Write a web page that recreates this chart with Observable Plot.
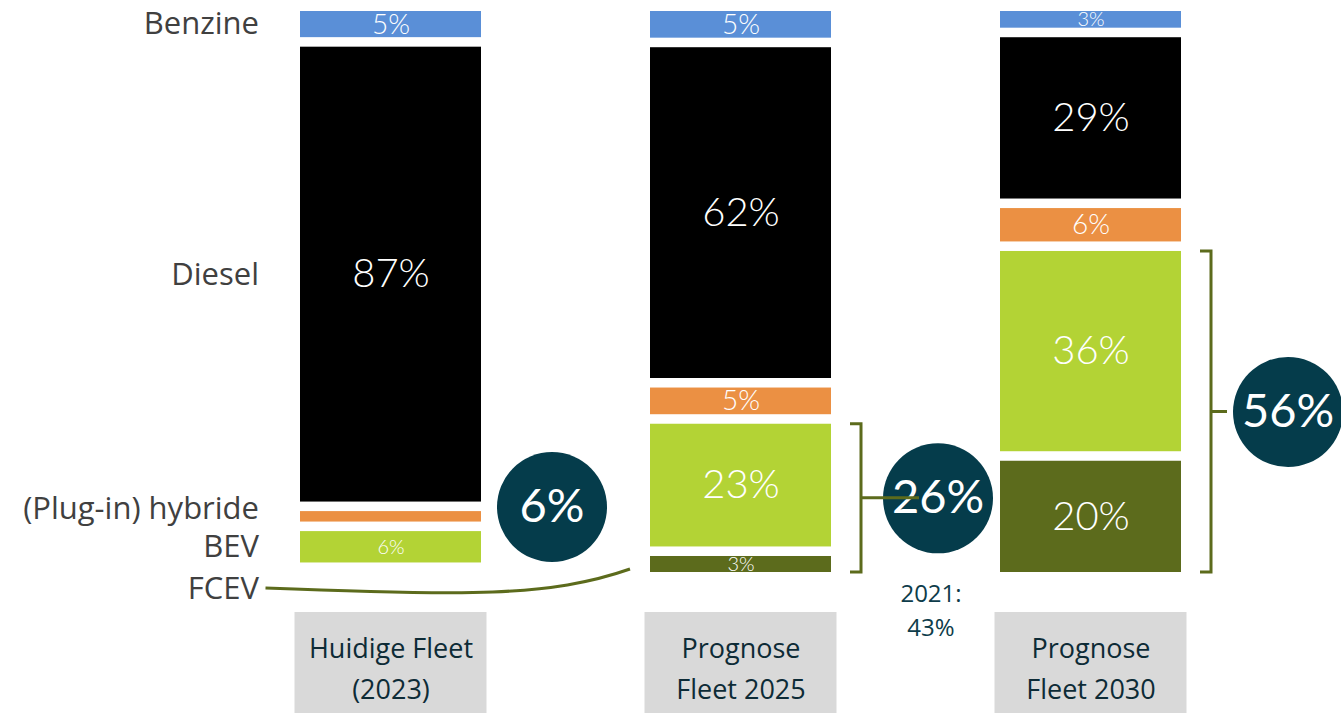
<!DOCTYPE html>
<html><head><meta charset="utf-8">
<script src="https://cdn.jsdelivr.net/npm/d3@7"></script>
<script src="https://cdn.jsdelivr.net/npm/@observablehq/plot@0.6"></script>
<style>html,body{margin:0;padding:0;background:#fff;overflow:hidden}#chart svg{display:block}</style>
</head><body><div id="chart"></div>
<script>
// ---- data ----
const categories = ["Huidige Fleet\n(2023)", "Prognose\nFleet 2025", "Prognose\nFleet 2030"];
const fuels = ["Benzine", "Diesel", "(Plug-in) hybride", "BEV", "FCEV"];
const benzine = [5, 5, 3];
const diesel  = [87, 62, 29];
const hybride = [2, 5, 6];
const bev     = [6, 23, 36];
const fcev    = [0, 3, 20];
const note2021 = "2021:\n43%";
const fuelColors = ["#5A8FD7", "#000000", "#EB9043", "#B3D335", "#5C6B1C"];

// ---- layout helpers ----
const W = 1341, H = 713;
const GAP = 1.7;
const circleFill = "#053C4B";
const olive = "#5C6B1C";
const PAD = 0.483;

const rows = [];
categories.forEach((c, i) => {
  const vals = [benzine[i], diesel[i], hybride[i], bev[i], fcev[i]];
  const k = (100 - GAP * (fuels.length - 1)) / d3.sum(vals);
  let y = 0;
  vals.forEach((v, j) => {
    const h = v * k;
    rows.push({cat: c, bar: i, fuel: fuels[j], value: v, y1: y, y2: y + h});
    y += h + GAP;
  });
});
const seg = (i, f) => rows.find(d => d.bar === i && d.fuel === f);
const greens = categories.map((c, i) => ({
  cat: c, bar: i, share: bev[i] + fcev[i],
  y1: seg(i, "BEV").y1, y2: seg(i, "FCEV").y2
}));
const mid = d => (d.y1 + d.y2) / 2;
const segFont = d => d.value >= 20 ? 40 : (d.value >= 5 && d.fuel !== "BEV") ? 28 : 20;
const labelStyle = {x: "cat", y: mid, text: "fuel", textAnchor: "end", dx: -132, fontSize: 31, fill: "#404040"};
const firstBar = f => rows.filter(d => d.bar === 0 && f(d.fuel));

const chart = Plot.plot({
  width: W, height: H,
  marginTop: 11, marginBottom: 141, marginLeft: 215, marginRight: 76,
  x: {domain: categories, paddingInner: PAD, paddingOuter: PAD / 2, axis: null},
  y: {domain: [0, 100], reverse: true, axis: null},
  color: {domain: fuels, range: fuelColors},
  style: {fontFamily: "'Open Sans', sans-serif", background: "white"},
  marks: [
    Plot.barY(rows.filter(d => d.value > 0), {x: "cat", y1: "y1", y2: "y2", fill: "fuel"}),
    Plot.text(rows.filter(d => d.value >= 3), {
      x: "cat", y: mid, text: d => d.value + "%", fill: "white",
      fontSize: segFont, fontWeight: 300, fontFamily: "Lato, sans-serif"
    }),
    // fuel labels on the left, aligned to the first bar
    Plot.text(firstBar(f => f === "Benzine" || f === "Diesel" || f === "BEV"), labelStyle),
    Plot.text(firstBar(f => f === "(Plug-in) hybride"), {...labelStyle, dy: -8}),
    Plot.text(firstBar(f => f === "FCEV"), {...labelStyle, dy: 17}),
    // green share circles
    Plot.dot(greens.slice(0, 1), {x: "cat", y: mid, r: 55, fill: circleFill, dx: 161, dy: -45}),
    Plot.text(greens.slice(0, 1), {x: "cat", y: mid, dx: 161, dy: -45, text: d => d.share + "%",
      fill: "white", fontSize: 47, fontFamily: "Lato, sans-serif"}),
    Plot.dot(greens.slice(1), {x: "cat", y: mid, r: 55, fill: circleFill, dx: 197}),
    Plot.text(greens.slice(1), {x: "cat", y: mid, dx: 197, text: d => d.share + "%",
      fill: "white", fontSize: 47, fontFamily: "Lato, sans-serif"}),
    // 2021 note
    Plot.text([{cat: categories[1], t: note2021}], {
      x: "cat", frameAnchor: "bottom", lineAnchor: "middle", dx: 190, dy: 36, text: "t",
      fontSize: 24, lineHeight: 1.42, fill: "#0E3C4A"
    }),
    // category labels
    Plot.text(categories, {
      x: d => d, frameAnchor: "bottom", lineAnchor: "middle", dy: 93, text: d => d,
      fontSize: 27, lineHeight: 1.5, fill: "#0D2B36"
    })
  ]
});
document.getElementById("chart").append(chart);

// ---- decorations positioned through the plot's scales ----
const xs = chart.scale("x"), ys = chart.scale("y");
const bw = xs.bandwidth;
const svg = d3.select(chart);

// grey boxes behind category labels
const boxes = svg.insert("g", "g");
categories.forEach(c => {
  const cx = xs.apply(c) + bw / 2;
  boxes.append("rect")
    .attr("x", cx - 96).attr("width", 192)
    .attr("y", ys.apply(100) + 40).attr("height", H - ys.apply(100) - 40)
    .attr("fill", "#D9D9D9");
});

// brackets for bars 2 and 3
const deco = svg.append("g").attr("fill", "none").attr("stroke", olive).attr("stroke-width", 3);
greens.slice(1).forEach((g, k) => {
  const bx = xs.apply(g.cat) + bw + 30;
  const t = ys.apply(g.y1), b = ys.apply(g.y2), m = (t + b) / 2;
  const tick = k === 0 ? 58 : 16;
  deco.append("path").attr("d", `M${bx - 11},${t}H${bx}V${b}H${bx - 11}M${bx},${m}H${bx + tick}`);
});

// connector from FCEV label to FCEV segment of 2025
{
  const f0 = seg(0, "FCEV"), f1 = seg(1, "FCEV");
  const sx = xs.apply(categories[0]) + bw / 2 - 125, sy = ys.apply(mid(f0)) + 16;
  const ex = xs.apply(categories[1]) - 20, ey = ys.apply(mid(f1)) + 5;
  deco.append("path").attr("d", `M${sx},${sy}C${sx + 200},${sy + 8} ${ex - 80},${ey + 28} ${ex},${ey}`);
}
</script>
</body></html>
